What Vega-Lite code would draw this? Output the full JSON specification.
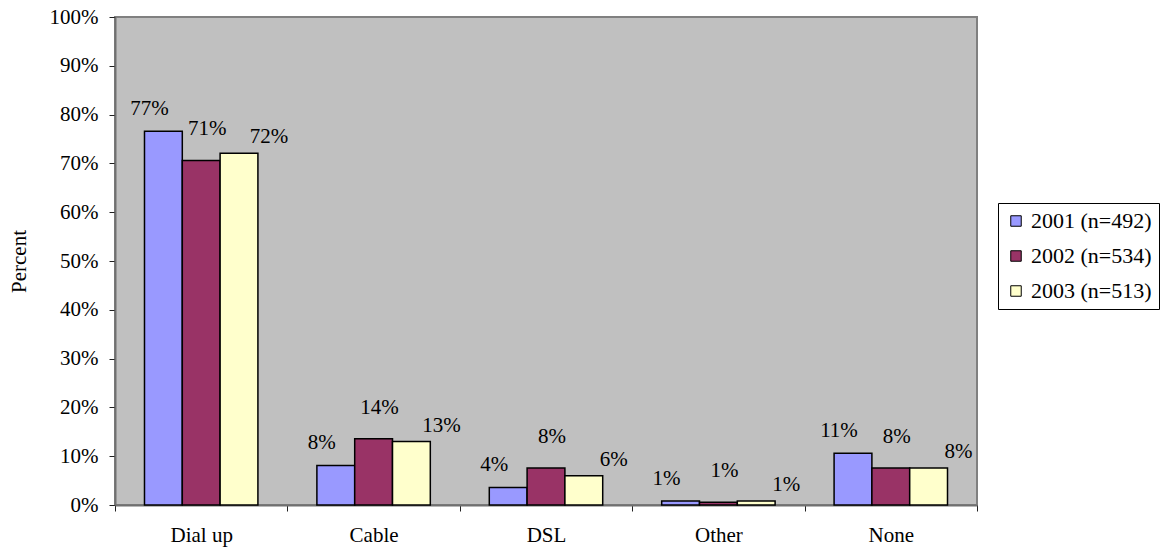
{
  "$schema": "https://vega.github.io/schema/vega-lite/v6.json",
  "width": 862,
  "height": 488,
  "autosize": {"type": "none"},
  "padding": {"left": 115, "top": 17, "right": 185, "bottom": 45},
  "background": "white",
  "config": {
    "font": "'Liberation Serif', 'Times New Roman', serif",
    "view": {"fill": "#C0C0C0", "stroke": "#808080", "strokeWidth": 2},
    "axis": {
      "labelFontSize": 21,
      "labelColor": "black",
      "titleFontSize": 21,
      "titleFontWeight": "normal",
      "titleColor": "black",
      "domainColor": "#707070",
      "domainWidth": 2,
      "tickColor": "#202020",
      "tickWidth": 1,
      "tickSize": 6,
      "grid": false
    },
    "legend": {
      "labelFontSize": 22,
      "labelColor": "black"
    }
  },
  "data": {
    "values": [
      {"type": "Dial up", "year": "2001 (n=492)", "share": 0.766},
      {"type": "Dial up", "year": "2002 (n=534)", "share": 0.706},
      {"type": "Dial up", "year": "2003 (n=513)", "share": 0.721},
      {"type": "Cable", "year": "2001 (n=492)", "share": 0.081},
      {"type": "Cable", "year": "2002 (n=534)", "share": 0.136},
      {"type": "Cable", "year": "2003 (n=513)", "share": 0.130},
      {"type": "DSL", "year": "2001 (n=492)", "share": 0.036},
      {"type": "DSL", "year": "2002 (n=534)", "share": 0.076},
      {"type": "DSL", "year": "2003 (n=513)", "share": 0.060},
      {"type": "Other", "year": "2001 (n=492)", "share": 0.008},
      {"type": "Other", "year": "2002 (n=534)", "share": 0.0055},
      {"type": "Other", "year": "2003 (n=513)", "share": 0.008},
      {"type": "None", "year": "2001 (n=492)", "share": 0.106},
      {"type": "None", "year": "2002 (n=534)", "share": 0.076},
      {"type": "None", "year": "2003 (n=513)", "share": 0.076}
    ]
  },
  "encoding": {
    "x": {
      "field": "type",
      "type": "nominal",
      "sort": ["Dial up", "Cable", "DSL", "Other", "None"],
      "scale": {"paddingInner": 0, "paddingOuter": 0},
      "axis": {"title": null, "labelAngle": 0, "tickBand": "extent", "labelPadding": 13}
    },
    "xOffset": {
      "field": "year",
      "type": "nominal",
      "sort": ["2001 (n=492)", "2002 (n=534)", "2003 (n=513)"],
      "scale": {"paddingInner": 0, "paddingOuter": 0.78}
    },
    "y": {
      "field": "share",
      "type": "quantitative",
      "scale": {"domain": [0, 1], "nice": false},
      "axis": {
        "title": "Percent",
        "format": ".0%",
        "values": [0, 0.1, 0.2, 0.3, 0.4, 0.5, 0.6, 0.7, 0.8, 0.9, 1],
        "labelPadding": 11,
        "titlePadding": 20
      }
    }
  },
  "layer": [
    {
      "mark": {"type": "bar", "stroke": "black", "strokeWidth": 1.5},
      "encoding": {
        "color": {
          "field": "year",
          "type": "nominal",
          "scale": {
            "domain": ["2001 (n=492)", "2002 (n=534)", "2003 (n=513)"],
            "range": ["#9999FF", "#993366", "#FFFFCC"]
          },
          "legend": {
            "title": null,
            "orient": "none",
            "legendX": 883,
            "legendY": 186,
            "strokeColor": "black",
            "fillColor": "white",
            "padding": 7,
            "symbolType": "square",
            "symbolSize": 110,
            "symbolStrokeColor": "black",
            "symbolStrokeWidth": 1,
            "labelOffset": 4,
            "rowPadding": 13
          }
        }
      }
    },
    {
      "transform": [{"filter": "datum.year === '2001 (n=492)'"}],
      "mark": {"type": "text", "fontSize": 21, "color": "black", "baseline": "middle", "dx": -14, "dy": -22},
      "encoding": {"text": {"field": "share", "type": "quantitative", "format": ".0%"}}
    },
    {
      "transform": [{"filter": "datum.year === '2002 (n=534)'"}],
      "mark": {"type": "text", "fontSize": 21, "color": "black", "baseline": "middle", "dx": 6, "dy": -31},
      "encoding": {"text": {"field": "share", "type": "quantitative", "format": ".0%"}}
    },
    {
      "transform": [{"filter": "datum.year === '2003 (n=513)'"}],
      "mark": {"type": "text", "fontSize": 21, "color": "black", "baseline": "middle", "dx": 30, "dy": -16},
      "encoding": {"text": {"field": "share", "type": "quantitative", "format": ".0%"}}
    }
  ]
}
